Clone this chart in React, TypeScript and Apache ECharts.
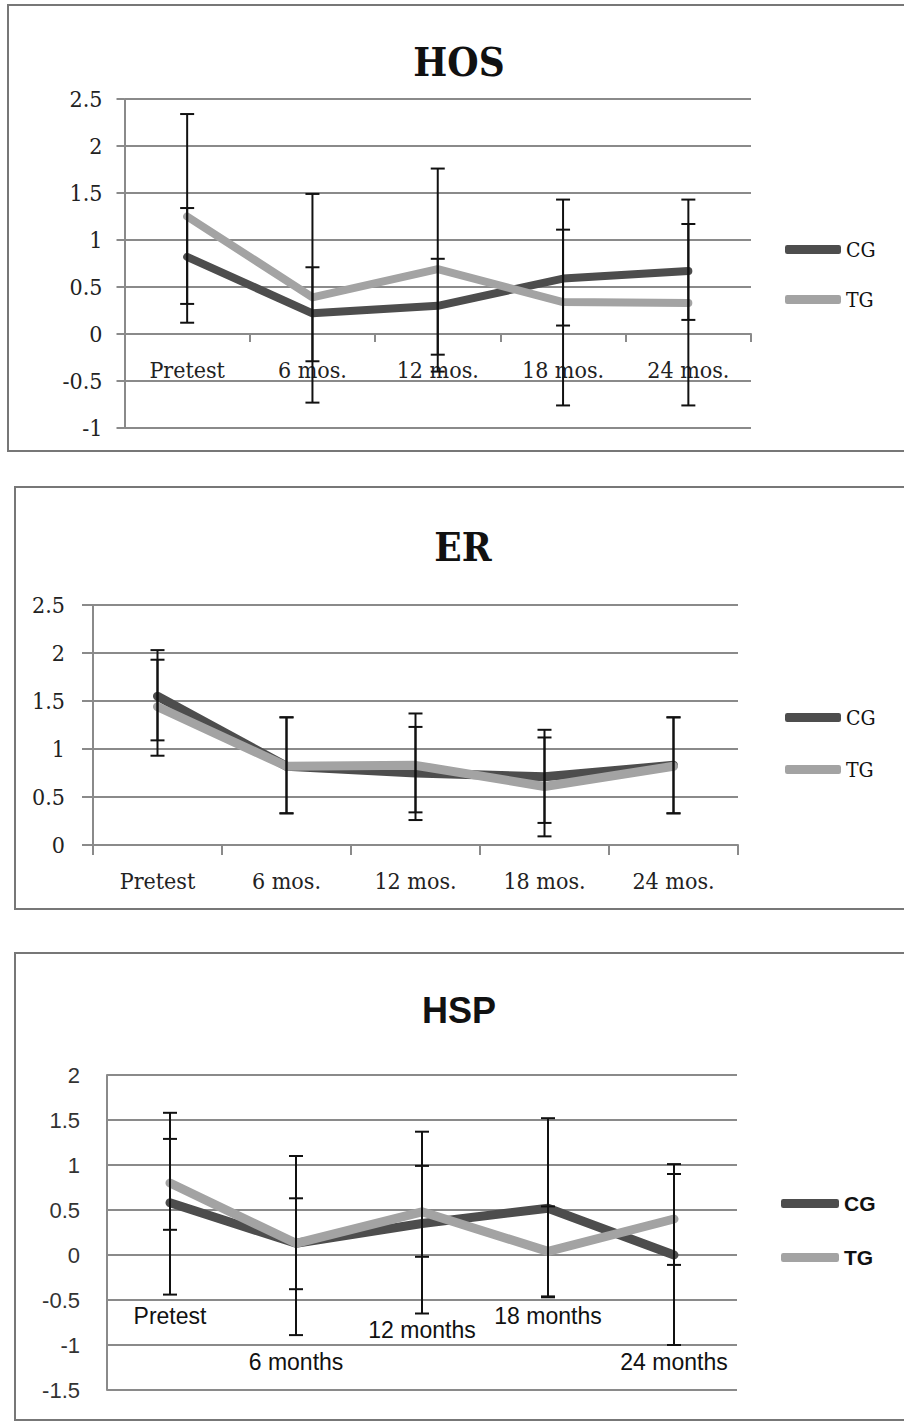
import React, { useEffect, useRef } from "react";
import * as echarts from "echarts";

// ---- data ----
const catsMos = ["Pretest", "6 mos.", "12 mos.", "18 mos.", "24 mos."];
const catsMonths = ["Pretest", "6 months", "12 months", "18 months", "24 months"];
const seriesNames = ["CG", "TG"];

const hosCG = [0.82, 0.22, 0.3, 0.59, 0.67];
const hosTG = [1.25, 0.39, 0.69, 0.34, 0.33];
const hosCGLow = [0.32, -0.29, -0.22, 0.09, 0.15];
const hosCGHigh = [1.34, 0.71, 0.8, 1.11, 1.17];
const hosTGLow = [0.12, -0.73, -0.4, -0.76, -0.76];
const hosTGHigh = [2.34, 1.49, 1.76, 1.43, 1.43];

const erCG = [1.55, 0.82, 0.75, 0.71, 0.83];
const erTG = [1.44, 0.82, 0.83, 0.61, 0.82];
const erCGLow = [1.09, 0.33, 0.26, 0.23, 0.33];
const erCGHigh = [2.03, 1.33, 1.23, 1.2, 1.33];
const erTGLow = [0.93, 0.33, 0.34, 0.09, 0.33];
const erTGHigh = [1.93, 1.33, 1.37, 1.12, 1.33];

const hspCG = [0.58, 0.13, 0.35, 0.52, 0.0];
const hspTG = [0.8, 0.13, 0.48, 0.04, 0.4];
const hspCGLow = [-0.44, -0.89, -0.65, -0.47, -1.0];
const hspCGHigh = [1.58, 1.1, 1.37, 1.52, 1.01];
const hspTGLow = [0.28, -0.38, -0.02, -0.46, -0.11];
const hspTGHigh = [1.29, 0.63, 0.99, 0.54, 0.9];

const titles = ["HOS", "ER", "HSP"];
const hosTicks = { min: -1, max: 2.5, interval: 0.5 };
const erTicks = { min: 0, max: 2.5, interval: 0.5 };
const hspTicks = { min: -1.5, max: 2, interval: 0.5 };

// ---- styles ----
const SERIF = "'DejaVu Serif Condensed', 'DejaVu Serif', 'Liberation Serif', serif";
const SANS = "'Liberation Sans', Arial, sans-serif";
const GRID = "#8a8a8a";
const DARK = "#4d4d4d";
const LIGHT = "#a3a3a3";

const PAGE_H = 1423;
const hosGrid = { left: 124.5, right: 153, top: 99, bottom: 995 };
const erGrid = { left: 93, right: 166, top: 605, bottom: 578 };
const hspGrid = { left: 107, right: 167, top: 1075, bottom: 33 };

// px offset from the grid bottom to the y-value `v`
function zeroOffset(grid: any, ticks: any, v: number) {
  const h = PAGE_H - grid.top - grid.bottom;
  return ((v - ticks.min) / (ticks.max - ticks.min)) * h;
}

function errSeries(name: string, gi: number, low: number[], high: number[]) {
  return {
    type: "custom",
    name,
    xAxisIndex: gi,
    yAxisIndex: gi,
    z: 5,
    silent: true,
    data: low.map((l, i) => [i, l, high[i]]),
    encode: { x: 0, y: [1, 2] },
    renderItem: (params: any, api: any) => {
      const x = api.value(0);
      const lo = api.coord([x, api.value(1)]);
      const hi = api.coord([x, api.value(2)]);
      const w = 7;
      const st = { stroke: "#111", lineWidth: 2 };
      return {
        type: "group",
        children: [
          { type: "line", shape: { x1: lo[0], y1: lo[1], x2: hi[0], y2: hi[1] }, style: st },
          { type: "line", shape: { x1: lo[0] - w, y1: lo[1], x2: lo[0] + w, y2: lo[1] }, style: st },
          { type: "line", shape: { x1: hi[0] - w, y1: hi[1], x2: hi[0] + w, y2: hi[1] }, style: st },
        ],
      };
    },
  };
}

function lineSeries(name: string, gi: number, data: number[], color: string, width: number) {
  return {
    type: "line",
    name,
    xAxisIndex: gi,
    yAxisIndex: gi,
    data,
    symbol: "none",
    z: name === "TG" ? 3 : 2,
    lineStyle: { color, width, cap: "round", join: "round" },
    itemStyle: { color },
  };
}

export default function App() {
  const ref = useRef<HTMLDivElement>(null);

  useEffect(() => {
    if (!ref.current) return;
    const chart = echarts.init(ref.current, undefined, { renderer: "svg" });

    const hspLabelPad: Record<number, number> = { 0: 0, 1: 46, 2: 14, 3: 0, 4: 46 };
    const serifLegend = { fontFamily: SERIF, fontSize: 21, color: "#111", lineHeight: 18 };

    const option: any = {
      animation: false,
      backgroundColor: "#fff",
      title: [
        { text: titles[0], left: 454, top: 36, textAlign: "center", textStyle: { fontFamily: SERIF, fontWeight: "bold", fontSize: 40, color: "#111" } },
        { text: titles[1], left: 458, top: 521, textAlign: "center", textStyle: { fontFamily: SERIF, fontWeight: "bold", fontSize: 40, color: "#111" } },
        { text: titles[2], left: 454, top: 987, textAlign: "center", textStyle: { fontFamily: SANS, fontWeight: "bold", fontSize: 36, color: "#111" } },
      ],
      legend: [
        {
          data: seriesNames, orient: "vertical", left: 785, top: 239, padding: 0, itemGap: 29, itemWidth: 56, itemHeight: 9, icon: "roundRect",
          textStyle: serifLegend, itemTextGap: 4, selectedMode: false,
        },
        {
          data: seriesNames, orient: "vertical", left: 785, top: 707, padding: 0, itemGap: 31, itemWidth: 56, itemHeight: 9, icon: "roundRect",
          textStyle: serifLegend, itemTextGap: 4, selectedMode: false,
        },
        {
          data: seriesNames, orient: "vertical", left: 781, top: 1193, padding: 0, itemGap: 33, itemWidth: 58, itemHeight: 9, icon: "roundRect",
          textStyle: { fontFamily: SANS, fontWeight: "bold", fontSize: 21, color: "#111", lineHeight: 20 }, itemTextGap: 9, selectedMode: false,
        },
      ],
      grid: [
        { ...hosGrid, containLabel: false },
        { ...erGrid, containLabel: false },
        { ...hspGrid, containLabel: false },
      ],
      xAxis: [
        {
          type: "category", gridIndex: 0, data: catsMos,
          offset: -zeroOffset(hosGrid, hosTicks, 0),
          axisLine: { onZero: false, lineStyle: { color: GRID, width: 2 } },
          axisTick: { show: true, length: 8, lineStyle: { color: GRID, width: 2 } },
          axisLabel: { interval: 0, hideOverlap: false, fontFamily: SERIF, fontSize: 23, color: "#222", margin: 24 },
        },
        {
          type: "category", gridIndex: 1, data: catsMos,
          axisLine: { lineStyle: { color: GRID, width: 2 } },
          axisTick: { show: true, length: 10, lineStyle: { color: GRID, width: 2 } },
          axisLabel: { interval: 0, hideOverlap: false, fontFamily: SERIF, fontSize: 23, color: "#222", margin: 24 },
        },
        {
          type: "category", gridIndex: 2, data: catsMonths,
          offset: -zeroOffset(hspGrid, hspTicks, -0.5),
          axisLine: { show: false, onZero: false },
          axisTick: { show: false },
          axisLabel: {
            interval: 0, hideOverlap: false,
            fontFamily: SANS, fontSize: 23, color: "#111", margin: 4,
            formatter: (v: string, i: number) => `{p${hspLabelPad[i]}|${v}}`,
            rich: {
              p0: { fontFamily: SANS, fontSize: 23, color: "#111", padding: [0, 0, 0, 0] },
              p14: { fontFamily: SANS, fontSize: 23, color: "#111", padding: [14, 0, 0, 0] },
              p46: { fontFamily: SANS, fontSize: 23, color: "#111", padding: [46, 0, 0, 0] },
            },
          },
        },
      ],
      yAxis: [
        {
          type: "value", gridIndex: 0, ...hosTicks,
          axisLine: { show: true, lineStyle: { color: GRID, width: 2 } },
          axisTick: { show: true, length: 8, lineStyle: { color: GRID, width: 2 } },
          splitLine: { show: true, lineStyle: { color: GRID, width: 2 } },
          axisLabel: { fontFamily: SERIF, fontSize: 23, color: "#222", margin: 22 },
        },
        {
          type: "value", gridIndex: 1, ...erTicks,
          axisLine: { show: true, lineStyle: { color: GRID, width: 2 } },
          axisTick: { show: true, length: 11, lineStyle: { color: GRID, width: 2 } },
          splitLine: { show: true, lineStyle: { color: GRID, width: 2 } },
          axisLabel: { fontFamily: SERIF, fontSize: 23, color: "#222", margin: 28 },
        },
        {
          type: "value", gridIndex: 2, ...hspTicks,
          axisLine: { show: true, lineStyle: { color: GRID, width: 2 } },
          axisTick: { show: false },
          splitLine: { show: true, lineStyle: { color: GRID, width: 2 } },
          axisLabel: { fontFamily: SANS, fontSize: 22, color: "#333", margin: 27 },
        },
      ],
      series: [
        lineSeries("CG", 0, hosCG, DARK, 8),
        lineSeries("TG", 0, hosTG, LIGHT, 8),
        errSeries("errHosCG", 0, hosCGLow, hosCGHigh),
        errSeries("errHosTG", 0, hosTGLow, hosTGHigh),
        lineSeries("CG", 1, erCG, DARK, 9),
        lineSeries("TG", 1, erTG, LIGHT, 9),
        errSeries("errErCG", 1, erCGLow, erCGHigh),
        errSeries("errErTG", 1, erTGLow, erTGHigh),
        lineSeries("CG", 2, hspCG, DARK, 9),
        lineSeries("TG", 2, hspTG, LIGHT, 9),
        errSeries("errHspCG", 2, hspCGLow, hspCGHigh),
        errSeries("errHspTG", 2, hspTGLow, hspTGHigh),
      ],
      graphic: [
        { type: "rect", silent: true, shape: { x: 8, y: 5, width: 920, height: 446 }, style: { fill: "none", stroke: "#777", lineWidth: 2 } },
        { type: "rect", silent: true, shape: { x: 15, y: 487, width: 920, height: 422 }, style: { fill: "none", stroke: "#777", lineWidth: 2 } },
        { type: "rect", silent: true, shape: { x: 15, y: 953, width: 920, height: 467 }, style: { fill: "none", stroke: "#777", lineWidth: 2 } },
      ],
    };

    chart.setOption(option);
    return () => chart.dispose();
  }, []);

  return (
    <div style={{ position: "absolute", left: 0, top: 0, width: 904, height: 1423, overflow: "hidden", background: "#fff" }}>
      <div ref={ref} style={{ width: 904, height: 1423 }} />
    </div>
  );
}
